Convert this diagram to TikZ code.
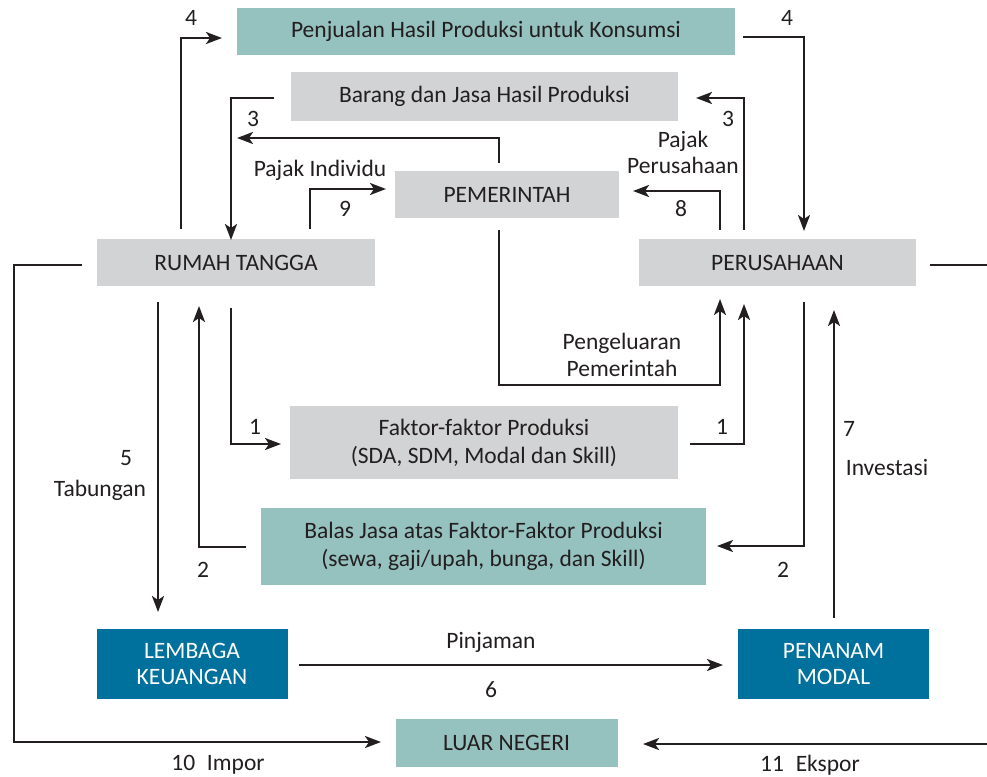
\documentclass[tikz,border=0pt]{standalone}
\usepackage{fontspec}
\setmainfont{Carlito}
\usetikzlibrary{arrows.meta}
\definecolor{ink}{HTML}{231F20}
\definecolor{grayc}{HTML}{D1D3D4}
\definecolor{tealc}{HTML}{95C1BF}
\definecolor{bluec}{HTML}{00709C}
\begin{document}
\begin{tikzpicture}[x=1pt,y=-1pt,
  font=\fontsize{23.5}{28}\selectfont,
  box/.style={inner sep=0pt, align=center, text=ink},
  gbox/.style={box, fill=grayc},
  tbox/.style={box, fill=tealc},
  bbox/.style={box, fill=bluec, text=white},
  flow/.style={draw=ink, line width=2.3pt, -{Stealth[length=16pt,width=12pt,inset=4pt]}},
  plain/.style={draw=ink, line width=2.3pt},
  lbl/.style={text=ink, inner sep=0pt, align=center}]
\useasboundingbox (0,0) rectangle (987,776);
\fill[white] (0,0) rectangle (987,776);
% boxes
\node[tbox, minimum width=498pt, minimum height=47pt] (jual) at (486,31.5) {Penjualan Hasil Produksi untuk Konsumsi};
\node[gbox, minimum width=387pt, minimum height=49pt] (barang) at (484.5,96.5) {Barang dan Jasa Hasil Produksi};
\node[gbox, minimum width=224pt, minimum height=47pt] (pem) at (507,194.5) {PEMERINTAH};
\node[gbox, minimum width=278pt, minimum height=47pt] (rt) at (236,262.5) {RUMAH TANGGA};
\node[gbox, minimum width=277pt, minimum height=47pt] (per) at (777.5,262.5) {PERUSAHAAN};
\node[gbox, minimum width=388pt, minimum height=73pt] (fak) at (484,442.5) {Faktor-faktor Produksi\\(SDA, SDM, Modal dan Skill)};
\node[tbox, minimum width=445pt, minimum height=77pt] (balas) at (483.5,546.5) {Balas Jasa atas Faktor-Faktor Produksi\\(sewa, gaji/upah, bunga, dan Skill)};
\node[bbox, minimum width=191pt, minimum height=70pt, font=\fontsize{23.5}{26}\selectfont] (lk) at (192,664) {LEMBAGA\\KEUANGAN};
\node[bbox, minimum width=191pt, minimum height=70pt, font=\fontsize{23.5}{26}\selectfont] (pm) at (833.5,664) {PENANAM\\MODAL};
\node[tbox, minimum width=222pt, minimum height=48pt] (ln) at (506.5,743) {LUAR NEGERI};
% connector end points
\coordinate (a4s) at (181,229);   \coordinate (a4t) at (222,38);
\coordinate (b4s) at (743,37);    \coordinate (b4t) at (804,231);
\coordinate (a3s) at (274,98);    \coordinate (a3t) at (231,240);
\coordinate (c3s) at (499,163);   \coordinate (c3t) at (237,138);
\coordinate (a9s) at (310,229);   \coordinate (a9t) at (386,189);
\coordinate (b3s) at (744,230);   \coordinate (b3t) at (696,98);
\coordinate (a8s) at (720,230);   \coordinate (a8t) at (633,191);
\coordinate (pgs) at (499,230);   \coordinate (pgm) at (720,385); \coordinate (pgt) at (720,299);
\coordinate (b1s) at (690,444);   \coordinate (b1t) at (744,304);
\coordinate (b2s) at (804,302);   \coordinate (b2t) at (717,546);
\coordinate (a7s) at (834,618);   \coordinate (a7t) at (834,310);
\coordinate (a1s) at (231,308);   \coordinate (a1t) at (281,444);
\coordinate (a2s) at (246,547);   \coordinate (a2t) at (199,306);
\coordinate (a5s) at (158,302);   \coordinate (a5t) at (158,612);
\coordinate (a6s) at (299,665);   \coordinate (a6t) at (723,665);
\coordinate (a10s) at (82,265);   \coordinate (a10m) at (14,742); \coordinate (a10t) at (381,742);
\coordinate (a11s) at (987,744);  \coordinate (a11t) at (643,744);
\coordinate (ps) at (930,265);    \coordinate (pe) at (987,265);
% connectors
\draw[flow] (a4s) |- (a4t);
\draw[flow] (b4s) -| (b4t);
\draw[flow] (a3s) -| (a3t);
\draw[flow] (c3s) |- (c3t);
\draw[flow] (a9s) |- (a9t);
\draw[flow] (b3s) |- (b3t);
\draw[flow] (a8s) |- (a8t);
\draw[flow] (pgs) |- (pgm) -- (pgt);
\draw[flow] (b1s) -| (b1t);
\draw[flow] (b2s) |- (b2t);
\draw[flow] (a7s) -- (a7t);
\draw[flow] (a1s) |- (a1t);
\draw[flow] (a2s) -| (a2t);
\draw[flow] (a5s) -- (a5t);
\draw[flow] (a6s) -- (a6t);
\draw[flow] (a10s) -| (a10m) -- (a10t);
\draw[flow] (a11s) -- (a11t);
\draw[plain] (ps) -- (pe);
% labels
\node[lbl] (l4a) at (191,18) {4};
\node[lbl] (l4b) at (787,18) {4};
\node[lbl] (l3a) at (253,119) {3};
\node[lbl] (l3b) at (728,119) {3};
\node[lbl] (lpi) at (320,170) {Pajak Individu};
\node[lbl] (l9) at (345,209) {9};
\node[lbl] (l8) at (681,209) {8};
\node[lbl, font=\fontsize{23.5}{26}\selectfont] (lpp) at (683,152) {Pajak\\Perusahaan};
\node[lbl, font=\fontsize{23.5}{27}\selectfont] (lpg) at (622,355) {Pengeluaran\\Pemerintah};
\node[lbl] (l1a) at (255,427) {1};
\node[lbl] (l1b) at (722,427) {1};
\node[lbl] (l5) at (126,458) {5};
\node[lbl] (ltab) at (100,490) {Tabungan};
\node[lbl] (l7) at (849,429) {7};
\node[lbl] (linv) at (887,467) {Investasi};
\node[lbl] (l2a) at (203,570) {2};
\node[lbl] (l2b) at (783,570) {2};
\node[lbl] (lpin) at (491,642) {Pinjaman};
\node[lbl] (l6) at (491,690) {6};
\node[lbl] (l10) at (218,765) {10\hspace{0.5em}Impor};
\node[lbl] (l11) at (810,765) {11\hspace{0.5em}Ekspor};
\end{tikzpicture}
\end{document}
